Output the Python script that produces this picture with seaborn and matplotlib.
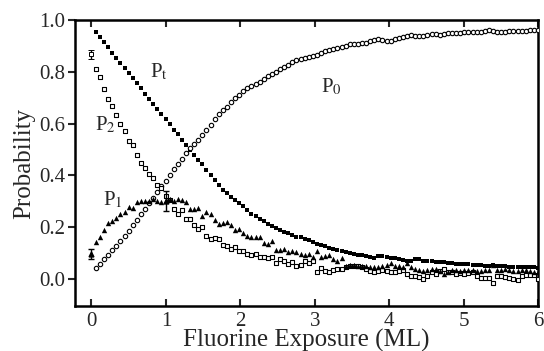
import numpy as np
import pandas as pd
import seaborn as sns
import matplotlib
matplotlib.use('Agg')
import matplotlib.pyplot as plt

# exposure grid (ML), one sample every 0.055 ML
exposure = np.round(0.06 + 0.055 * np.arange(109), 3)

p_t = [0.954, 0.934, 0.914, 0.894, 0.874, 0.854, 0.835, 0.815, 0.795, 0.776,
       0.756, 0.736, 0.716, 0.696, 0.676, 0.657, 0.637, 0.617, 0.597, 0.577,
       0.558, 0.538, 0.518, 0.498, 0.479, 0.459, 0.443, 0.422, 0.403, 0.382,
       0.363, 0.345, 0.330, 0.318, 0.305, 0.294, 0.280, 0.266, 0.252, 0.243,
       0.232, 0.222, 0.213, 0.203, 0.195, 0.187, 0.181, 0.176, 0.170, 0.163,
       0.160, 0.156, 0.150, 0.143, 0.135, 0.130, 0.126, 0.120, 0.116, 0.112,
       0.108, 0.104, 0.099, 0.097, 0.094, 0.092, 0.090, 0.086, 0.080, 0.087,
       0.089, 0.086, 0.082, 0.080, 0.078, 0.074, 0.071, 0.070, 0.077, 0.075,
       0.071, 0.069, 0.068, 0.066, 0.066, 0.064, 0.062, 0.061, 0.059, 0.058,
       0.057, 0.056, 0.055, 0.054, 0.053, 0.051, 0.050, 0.052, 0.050, 0.049,
       0.048, 0.047, 0.046, 0.047, 0.045, 0.045, 0.044, 0.044, 0.043]

p_0 = [0.043, 0.058, 0.076, 0.092, 0.110, 0.127, 0.146, 0.167, 0.186, 0.207,
       0.228, 0.249, 0.270, 0.292, 0.314, 0.336, 0.357, 0.378, 0.400, 0.423,
       0.443, 0.462, 0.485, 0.506, 0.521, 0.538, 0.556, 0.576, 0.595, 0.616,
       0.636, 0.651, 0.665, 0.682, 0.698, 0.712, 0.724, 0.737, 0.747, 0.754,
       0.762, 0.774, 0.785, 0.793, 0.801, 0.810, 0.820, 0.828, 0.836, 0.845,
       0.849, 0.853, 0.858, 0.862, 0.866, 0.874, 0.880, 0.884, 0.887, 0.891,
       0.895, 0.900, 0.906, 0.909, 0.907, 0.911, 0.913, 0.918, 0.924, 0.926,
       0.922, 0.919, 0.920, 0.925, 0.930, 0.936, 0.940, 0.942, 0.940, 0.938,
       0.939, 0.942, 0.945, 0.946, 0.944, 0.947, 0.950, 0.950, 0.949, 0.951,
       0.953, 0.955, 0.954, 0.952, 0.955, 0.959, 0.960, 0.956, 0.952, 0.953,
       0.955, 0.956, 0.956, 0.957, 0.959, 0.958, 0.960, 0.962, 0.961]

p_2 = [0.812, 0.780, 0.735, 0.695, 0.667, 0.632, 0.598, 0.572, 0.532, 0.517,
       0.478, 0.448, 0.428, 0.406, 0.388, 0.362, 0.352, 0.320, 0.306, 0.271,
       0.249, 0.265, 0.232, 0.231, 0.210, 0.193, 0.202, 0.167, 0.154, 0.158,
       0.154, 0.132, 0.128, 0.115, 0.122, 0.106, 0.106, 0.098, 0.093, 0.098,
       0.083, 0.086, 0.080, 0.086, 0.060, 0.077, 0.068, 0.057, 0.065, 0.050,
       0.054, 0.070, 0.063, 0.070, 0.027, 0.042, 0.031, 0.027, 0.036, 0.038,
       0.040, 0.046, 0.050, 0.048, 0.050, 0.044, 0.040, 0.031, 0.025, 0.031,
       0.034, 0.031, 0.025, 0.028, 0.031, 0.035, 0.020, 0.012, 0.010, 0.008,
       0.000, 0.012, 0.025, 0.020, 0.030, 0.038, 0.028, 0.025, 0.020, 0.022,
       0.020, 0.023, 0.025, 0.012, 0.005, 0.003, 0.003, -0.017, 0.012, 0.010,
       0.008, 0.005, 0.000, -0.005, 0.012, 0.014, 0.016, 0.016, 0.000]

p_1 = [0.141, 0.160, 0.188, 0.217, 0.224, 0.237, 0.252, 0.258, 0.279, 0.272,
       0.296, 0.300, 0.300, 0.301, 0.310, 0.301, 0.297, 0.300, 0.310, 0.300,
       0.310, 0.305, 0.297, 0.271, 0.271, 0.272, 0.242, 0.258, 0.250, 0.226,
       0.211, 0.215, 0.218, 0.210, 0.190, 0.193, 0.176, 0.167, 0.161, 0.160,
       0.160, 0.140, 0.136, 0.148, 0.112, 0.110, 0.114, 0.104, 0.107, 0.104,
       0.095, 0.093, 0.096, 0.085, 0.106, 0.083, 0.088, 0.093, 0.078, 0.070,
       0.080, 0.050, 0.054, 0.052, 0.050, 0.050, 0.048, 0.044, 0.046, 0.047,
       0.050, 0.055, 0.060, 0.050, 0.049, 0.047, 0.063, 0.044, 0.040, 0.033,
       0.030, 0.035, 0.037, 0.040, 0.030, 0.018, 0.028, 0.035, 0.033, 0.031,
       0.033, 0.035, 0.033, 0.031, 0.032, 0.035, 0.036, 0.054, 0.035, 0.036,
       0.037, 0.035, 0.032, 0.031, 0.034, 0.035, 0.030, 0.027, 0.028]

# points with error bars: (x, y, err)
err_p2 = (0.0, 0.868, 0.017)
err_p1 = [(0.0, 0.096, 0.020), (1.0, 0.302, 0.038)]

series_labels = ['Pt', 'P0', 'P2', 'P1']

data = pd.concat([
    pd.DataFrame({'exposure': exposure, 'prob': vals, 'series': name})
    for name, vals in zip(series_labels, [p_t, p_0, p_2, p_1])
], ignore_index=True)

sns.set_style('ticks')
plt.rcParams['font.family'] = ['Liberation Serif', 'DejaVu Serif']
plt.rcParams['mathtext.fontset'] = 'stix'

fig, ax = plt.subplots(figsize=(5.44, 3.51), dpi=100)
fig.subplots_adjust(left=0.138, right=0.989, top=0.943, bottom=0.128)

marker_kw = {
    'Pt': dict(marker='s', s=6, color='black', linewidth=0),
    'P0': dict(marker='o', s=10, facecolor='white', edgecolor='black', linewidth=0.8),
    'P2': dict(marker='s', s=10, facecolor='white', edgecolor='black', linewidth=0.8),
    'P1': dict(marker='^', s=15, color='black', linewidth=0),
}

for name in series_labels:
    sub = data[data['series'] == name]
    sns.scatterplot(x='exposure', y='prob', data=sub, ax=ax, legend=False,
                    zorder=3, **marker_kw[name])

# error bars
ax.errorbar(err_p2[0], err_p2[1], yerr=err_p2[2], fmt='s', ms=2.5, mfc='white',
            mec='black', mew=0.7, ecolor='black', elinewidth=1, capsize=2.5,
            zorder=4)
for x, y, e in err_p1:
    ax.errorbar(x, y, yerr=e, fmt='^', ms=3.5, color='black', elinewidth=1,
                capsize=2.5, zorder=4)

# curve labels
ax.text(0.79, 0.78, r'P$_{\mathrm{t}}$', fontsize=15)
ax.text(3.08, 0.72, r'P$_0$', fontsize=15)
ax.text(0.05, 0.575, r'P$_2$', fontsize=15)
ax.text(0.15, 0.284, r'P$_1$', fontsize=15)

ax.set_xlim(-0.22, 6)
ax.set_ylim(-0.105, 1.0)
ax.set_xticks(range(0, 7))
ax.set_yticks([0.0, 0.2, 0.4, 0.6, 0.8, 1.0])
ax.set_yticklabels(['0.0', '0.2', '0.4', '0.6', '0.8', '1.0'])

for side in ['top', 'right', 'bottom', 'left']:
    ax.spines[side].set_linewidth(1.8)
    ax.spines[side].set_color('black')

ax.tick_params(axis='x', direction='in', top=True, length=5, width=1.5,
               labelsize=15, pad=4)
ax.tick_params(axis='y', direction='out', length=5, width=1.5,
               labelsize=15, pad=2)

ax.set_xlabel('Fluorine Exposure (ML)', fontsize=18, labelpad=-1)
ax.set_ylabel('Probability', fontsize=18, labelpad=3)

fig.savefig('out.png', dpi=100)
